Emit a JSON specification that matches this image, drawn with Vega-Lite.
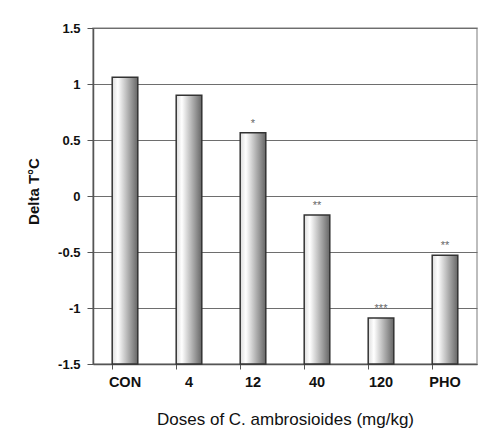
{
  "$schema": "https://vega.github.io/schema/vega-lite/v6.json",
  "autosize": "none",
  "width": 384,
  "height": 336,
  "padding": {"left": 93, "top": 28, "right": 6, "bottom": 82},
  "background": "#ffffff",
  "config": {
    "font": "Liberation Sans",
    "view": {"stroke": "#a8a8a8", "strokeWidth": 1.5}
  },
  "data": {
    "values": [
      {"dose": "CON", "delta": 1.06, "sig": ""},
      {"dose": "4", "delta": 0.9, "sig": ""},
      {"dose": "12", "delta": 0.565, "sig": "*"},
      {"dose": "40", "delta": -0.17, "sig": "**"},
      {"dose": "120", "delta": -1.09, "sig": "***"},
      {"dose": "PHO", "delta": -0.53, "sig": "**"}
    ]
  },
  "encoding": {
    "x": {
      "field": "dose",
      "type": "nominal",
      "sort": null,
      "scale": {"paddingInner": 0.6, "paddingOuter": 0.3},
      "axis": {
        "title": "Doses of C. ambrosioides (mg/kg)",
        "titleFont": "Liberation Sans",
        "titleFontSize": 17,
        "titleFontWeight": "normal",
        "titleColor": "#111111",
        "titlePadding": 23,
        "labelAngle": 0,
        "labelFontSize": 14.5,
        "labelFontWeight": "bold",
        "labelColor": "#111111",
        "labelPadding": 6,
        "bandPosition": 0,
        "tickSize": 5,
        "tickColor": "#555555",
        "domainColor": "#555555",
        "domainWidth": 1.5
      }
    },
    "y": {
      "field": "delta",
      "type": "quantitative",
      "scale": {"domain": [-1.5, 1.5], "nice": false, "zero": false},
      "axis": {
        "title": "Delta T°C",
        "titleFontSize": 15,
        "titleFontWeight": "bold",
        "titleColor": "#111111",
        "titlePadding": 16,
        "titleY": 163,
        "values": [-1.5, -1, -0.5, 0, 0.5, 1, 1.5],
        "labelExpr": "datum.value",
        "labelFontSize": 13,
        "labelFontWeight": "bold",
        "labelColor": "#111111",
        "labelPadding": 7,
        "tickSize": 6,
        "tickColor": "#555555",
        "domainColor": "#555555",
        "domainWidth": 1.5,
        "grid": true,
        "gridColor": "#6e6e6e",
        "gridWidth": 1
      }
    }
  },
  "layer": [
    {
      "mark": {
        "type": "bar",
        "stroke": "#333333",
        "strokeWidth": 1.5,
        "color": {
          "gradient": "linear",
          "x1": 0, "x2": 1, "y1": 0, "y2": 0,
          "stops": [
            {"offset": 0, "color": "#dcdcdc"},
            {"offset": 0.22, "color": "#ffffff"},
            {"offset": 1, "color": "#666666"}
          ]
        }
      },
      "encoding": {
        "y2": {"datum": -1.5}
      }
    },
    {
      "mark": {"type": "text", "dy": -9, "fontSize": 11, "fill": "#666666", "baseline": "middle"},
      "encoding": {
        "text": {"field": "sig"}
      }
    }
  ]
}
